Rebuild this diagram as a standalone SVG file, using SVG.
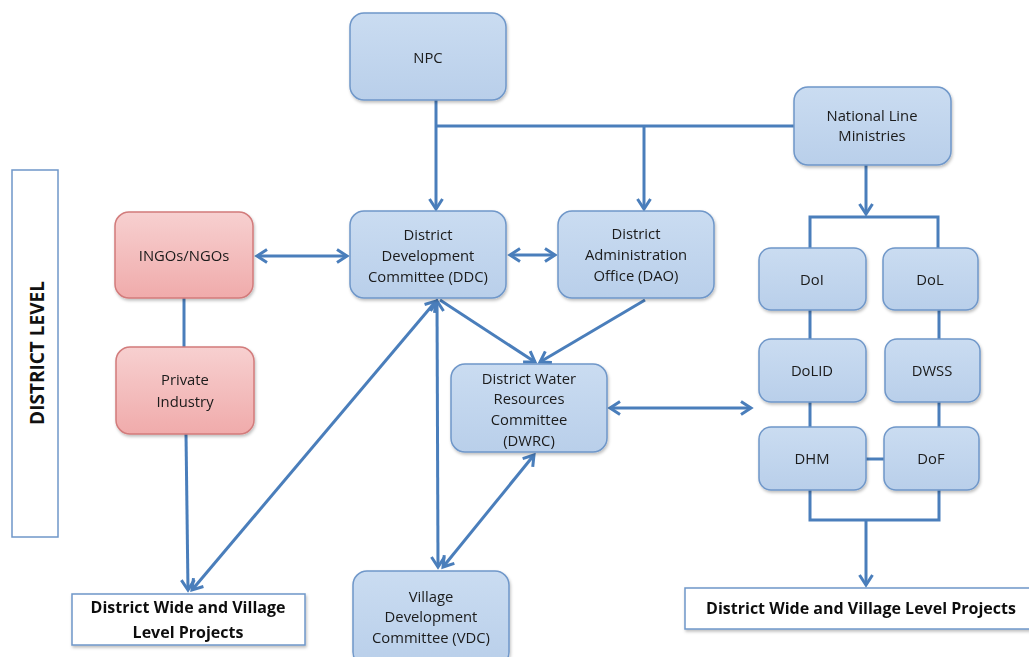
<svg xmlns="http://www.w3.org/2000/svg" width="1029" height="657" viewBox="0 0 1029 657">
<style>
.blue{fill:url(#gb);stroke:#6f97c9;stroke-width:1.5}
.red{fill:url(#gr);stroke:#d27b7b;stroke-width:1.5}
.t{font-family:"Open Sans","Liberation Sans",sans-serif;font-size:14.8px;fill:#1a1a1a;text-anchor:middle}
.b{font-family:"Open Sans","Liberation Sans",sans-serif;font-size:16px;font-weight:bold;fill:#111;text-anchor:middle}
.c{fill:none;stroke:#4a7ebb;stroke-width:3}
.w{fill:#fff;stroke:#6f97c9;stroke-width:1.5}
</style>
<defs>
<linearGradient id="gb" x1="0" y1="0" x2="0" y2="1"><stop offset="0" stop-color="#cadcf1"/><stop offset="1" stop-color="#b9cfea"/></linearGradient>
<linearGradient id="gr" x1="0" y1="0" x2="0" y2="1"><stop offset="0" stop-color="#f7d0d0"/><stop offset="1" stop-color="#f0abab"/></linearGradient>
<filter id="sh" x="-10%" y="-10%" width="125%" height="130%"><feDropShadow dx="1" dy="2" stdDeviation="1.5" flood-color="#000" flood-opacity="0.25"/></filter>
<marker id="a" markerUnits="userSpaceOnUse" markerWidth="16" markerHeight="16" viewBox="0 0 16 16" refX="13" refY="8" orient="auto-start-reverse"><path d="M3,1.5 L13,8 L3,14.5" fill="none" stroke="#4a7ebb" stroke-width="3"/></marker>
</defs>

<g id="connectors">
<path class="c" d="M436,100 V209" marker-end="url(#a)"/>
<path class="c" d="M436,126 H794"/>
<path class="c" d="M644,126 V209" marker-end="url(#a)"/>
<path class="c" d="M257,256 H347" marker-start="url(#a)" marker-end="url(#a)"/>
<path class="c" d="M510,255 H555" marker-start="url(#a)" marker-end="url(#a)"/>
<path class="c" d="M184,298 V347"/>
<path class="c" d="M186,434 L188,590" marker-end="url(#a)"/>
<path class="c" d="M436,301 L192,590" marker-start="url(#a)" marker-end="url(#a)"/>
<path class="c" d="M437,301 L438,567" marker-start="url(#a)" marker-end="url(#a)"/>
<path class="c" d="M440,300 L535,362" marker-end="url(#a)"/>
<path class="c" d="M645,300 L540,362" marker-end="url(#a)"/>
<path class="c" d="M610,408 H751" marker-start="url(#a)" marker-end="url(#a)"/>
<path class="c" d="M534,455 L443,567" marker-start="url(#a)" marker-end="url(#a)"/>
<path class="c" d="M866,165 V214" marker-end="url(#a)"/>
<path class="c" d="M810,248 V217 H938 V248"/>
<path class="c" d="M810,310 V339 M810,402 V427"/>
<path class="c" d="M939,310 V339 M939,402 V427"/>
<path class="c" d="M866,459 H884"/>
<path class="c" d="M810,490 V520 H939 V490"/>
<path class="c" d="M866,520 V585" marker-end="url(#a)"/>
</g>

<g id="district-level">
<rect class="w" x="12" y="170" width="46" height="367"/>
<text transform="translate(44,353) rotate(-90)" font-family="'Open Sans','Liberation Sans',sans-serif" font-size="19" font-weight="bold" fill="#111" text-anchor="middle">DISTRICT LEVEL</text>
</g>

<g id="npc" filter="url(#sh)">
<rect class="blue" x="350" y="13" width="156" height="87" rx="14"/>
<text class="t" x="428" y="63">NPC</text>
</g>

<g id="nlm" filter="url(#sh)">
<rect class="blue" x="794" y="87" width="157" height="78" rx="14"/>
<text class="t" x="872" y="121">National Line</text>
<text class="t" x="872" y="141">Ministries</text>
</g>

<g id="ddc" filter="url(#sh)">
<rect class="blue" x="350" y="211" width="156" height="87" rx="14"/>
<text class="t" x="428" y="240">District</text>
<text class="t" x="428" y="261">Development</text>
<text class="t" x="428" y="282">Committee (DDC)</text>
</g>

<g id="dao" filter="url(#sh)">
<rect class="blue" x="558" y="211" width="156" height="87" rx="14"/>
<text class="t" x="636" y="239">District</text>
<text class="t" x="636" y="260">Administration</text>
<text class="t" x="636" y="281">Office (DAO)</text>
</g>

<g id="ngos" filter="url(#sh)">
<rect class="red" x="115" y="212" width="138" height="86" rx="14"/>
<text class="t" x="184" y="261">INGOs/NGOs</text>
</g>

<g id="private" filter="url(#sh)">
<rect class="red" x="116" y="347" width="138" height="87" rx="14"/>
<text class="t" x="185" y="385">Private</text>
<text class="t" x="185" y="407">Industry</text>
</g>

<g id="dwrc" filter="url(#sh)">
<rect class="blue" x="451" y="364" width="156" height="88" rx="14"/>
<text class="t" x="529" y="384">District Water</text>
<text class="t" x="529" y="404">Resources</text>
<text class="t" x="529" y="425">Committee</text>
<text class="t" x="529" y="446">(DWRC)</text>
</g>

<g id="vdc" filter="url(#sh)">
<rect class="blue" x="353" y="571" width="156" height="95" rx="14"/>
<text class="t" x="431" y="602">Village</text>
<text class="t" x="431" y="622">Development</text>
<text class="t" x="431" y="643">Committee (VDC)</text>
</g>

<g id="doi" filter="url(#sh)">
<rect class="blue" x="759" y="248" width="107" height="62" rx="12"/>
<text class="t" x="812" y="285">DoI</text>
</g>
<g id="dol" filter="url(#sh)">
<rect class="blue" x="883" y="248" width="95" height="62" rx="12"/>
<text class="t" x="930" y="285">DoL</text>
</g>
<g id="dolid" filter="url(#sh)">
<rect class="blue" x="759" y="339" width="107" height="63" rx="12"/>
<text class="t" x="812" y="376">DoLID</text>
</g>
<g id="dwss" filter="url(#sh)">
<rect class="blue" x="885" y="339" width="95" height="63" rx="12"/>
<text class="t" x="932" y="376">DWSS</text>
</g>
<g id="dhm" filter="url(#sh)">
<rect class="blue" x="759" y="427" width="107" height="63" rx="12"/>
<text class="t" x="812" y="464">DHM</text>
</g>
<g id="dof" filter="url(#sh)">
<rect class="blue" x="884" y="427" width="95" height="63" rx="12"/>
<text class="t" x="931" y="464">DoF</text>
</g>

<g id="projects-left" filter="url(#sh)">
<rect class="w" x="72" y="594" width="233" height="51"/>
<text class="b" x="188" y="613">District Wide and Village</text>
<text class="b" x="188" y="638">Level Projects</text>
</g>

<g id="projects-right" filter="url(#sh)">
<rect class="w" x="685" y="588" width="350" height="41"/>
<text class="b" x="861" y="614">District Wide and Village Level Projects</text>
</g>
</svg>
